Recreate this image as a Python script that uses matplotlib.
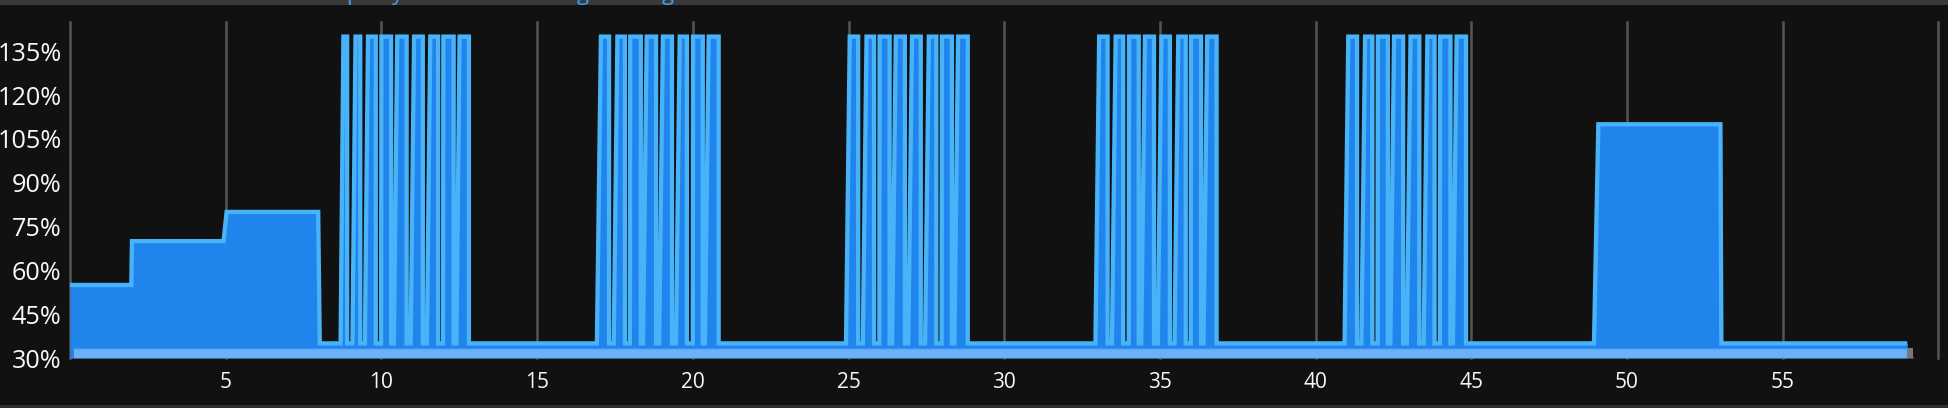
import matplotlib
matplotlib.use("Agg")
import matplotlib.pyplot as plt
from matplotlib.patches import Rectangle

plt.rcParams['font.family'] = ['Open Sans', 'DejaVu Sans']

# Levels (%)
LOW = 35
HIGH = 140
PLATEAU = 110
BASELINE_LEVEL = 33.3

# Opening staircase: time, level
step_x = [0, 1.97, 1.99, 4.93, 5.03, 7.97, 8.02]
step_y = [55, 55, 70, 70, 80, 80, LOW]

# Pulse bursts: time the rise starts, time it reaches the top, time of the fall
b1_rise_start = [8.69, 9.07, 9.47, 9.99, 10.40, 10.94, 11.46, 11.98, 12.41]
b1_rise_top = [8.78, 9.17, 9.57, 10.00, 10.51, 11.05, 11.57, 11.99, 12.51]
b1_fall = [8.90, 9.32, 9.82, 10.31, 10.81, 11.33, 11.82, 12.32, 12.81]

b2_rise_start = [16.92, 17.46, 17.98, 18.40, 18.92, 19.46, 20.00, 20.39]
b2_rise_top = [17.05, 17.58, 17.99, 18.52, 19.04, 19.58, 20.01, 20.51]
b2_fall = [17.31, 17.82, 18.33, 18.82, 19.33, 19.81, 20.32, 20.83]

b3_rise_start = [24.92, 25.46, 25.99, 26.40, 26.92, 27.46, 27.99, 28.40]
b3_rise_top = [25.04, 25.58, 26.00, 26.52, 27.04, 27.58, 28.00, 28.52]
b3_fall = [25.31, 25.82, 26.32, 26.81, 27.32, 27.82, 28.32, 28.83]

b4_rise_start = [32.93, 33.46, 34.00, 34.40, 34.93, 35.47, 35.99, 36.40]
b4_rise_top = [33.05, 33.58, 34.01, 34.52, 35.05, 35.59, 36.00, 36.52]
b4_fall = [33.32, 33.82, 34.32, 34.81, 35.32, 35.83, 36.32, 36.82]

b5_rise_start = [40.93, 41.47, 41.99, 42.40, 42.93, 43.47, 43.99, 44.41]
b5_rise_top = [41.05, 41.59, 42.00, 42.52, 43.05, 43.59, 44.00, 44.53]
b5_fall = [41.33, 41.82, 42.32, 42.81, 43.33, 43.82, 44.33, 44.83]

# Long plateau and the tail
plateau_x = [48.94, 49.08, 53.00, 53.03]
plateau_y = [LOW, PLATEAU, PLATEAU, LOW]
end_x = [59.0]
end_y = [LOW]

# Constant lower series
base_x = [0.12, 59.0]
base_y = [BASELINE_LEVEL, BASELINE_LEVEL]
tip_x = [59.0, 59.2]
tip_y = [BASELINE_LEVEL, BASELINE_LEVEL]
floor_x = [0, 59.2]
floor_y = [30, 30]

x_ticks = [0, 5, 10, 15, 20, 25, 30, 35, 40, 45, 50, 55, 60]
x_labels = ['', '5', '10', '15', '20', '25', '30', '35', '40', '45', '50', '55', '']
y_ticks = [30, 45, 60, 75, 90, 105, 120, 135]
y_labels = ['30%', '45%', '60%', '75%', '90%', '105%', '120%', '135%']

# Assemble the main series in time order
xs = list(step_x)
ys = list(step_y)
bursts = [
    (b1_rise_start, b1_rise_top, b1_fall),
    (b2_rise_start, b2_rise_top, b2_fall),
    (b3_rise_start, b3_rise_top, b3_fall),
    (b4_rise_start, b4_rise_top, b4_fall),
    (b5_rise_start, b5_rise_top, b5_fall),
]
for starts, tops, falls in bursts:
    for s, t, f in zip(starts, tops, falls):
        xs += [s, t, f, f]
        ys += [LOW, HIGH, HIGH, LOW]
xs += plateau_x + end_x
ys += plateau_y + end_y

W, H = 1948, 408
BG = '#111111'
fig = plt.figure(figsize=(W / 100, H / 100), dpi=100, facecolor=BG)
ax = fig.add_axes([70 / W, (H - 358) / H, 1868.4 / W, 336 / H], facecolor=BG)
ax.set_xlim(0, 60)
ax.set_ylim(30, 145)
for s in ax.spines.values():
    s.set_visible(False)

ax.set_xticks(x_ticks, x_labels)
ax.set_yticks(y_ticks, y_labels)
ax.tick_params(axis='both', length=0, colors='#f8f8f8')
ax.tick_params(axis='y', labelsize=18.2, pad=6)
ax.tick_params(axis='x', labelsize=15, pad=10)
ax.set_axisbelow(True)
for t in x_ticks:
    ax.axvline(t, color='#555555', linewidth=1.8, zorder=1, clip_on=False)
ax.plot(floor_x, floor_y, color='#5a5a5a', linewidth=1.2, zorder=2, clip_on=False)

ax.fill_between(xs, 30, ys, color='#2089F3', alpha=0.97, linewidth=0, zorder=3)
ax.plot(xs, ys, color='#49B3F9', linewidth=3.1, solid_joinstyle='miter',
        solid_capstyle='butt', zorder=4)

ax.fill_between(base_x, 30, base_y, color='#6DB0F7', linewidth=0, zorder=5)
ax.plot(base_x, base_y, color='#2F92F2', linewidth=1.0, solid_capstyle='butt', zorder=6)
ax.fill_between(tip_x, 30, tip_y, color='#777777', linewidth=0, zorder=5)

# Window chrome above and below the plot
fig.add_artist(Rectangle((0, (H - 4.5) / H), 1, 4.5 / H, transform=fig.transFigure,
                         facecolor='#3A3A3A', edgecolor='none', zorder=0))
fig.add_artist(Rectangle((0, 0), 1, 3 / H, transform=fig.transFigure,
                         facecolor='#2E2E2E', edgecolor='none', zorder=0))

# Cropped heading: only the descenders are left in the picture
for glyph, px in [('p', 353), ('y', 397), ('g', 583), ('g', 668)]:
    fig.text(px / W, 1.0, glyph, color='#3F9FF5', fontsize=16, ha='center', va='baseline',
             zorder=10)

fig.savefig('out.png', dpi=100, facecolor=BG)
